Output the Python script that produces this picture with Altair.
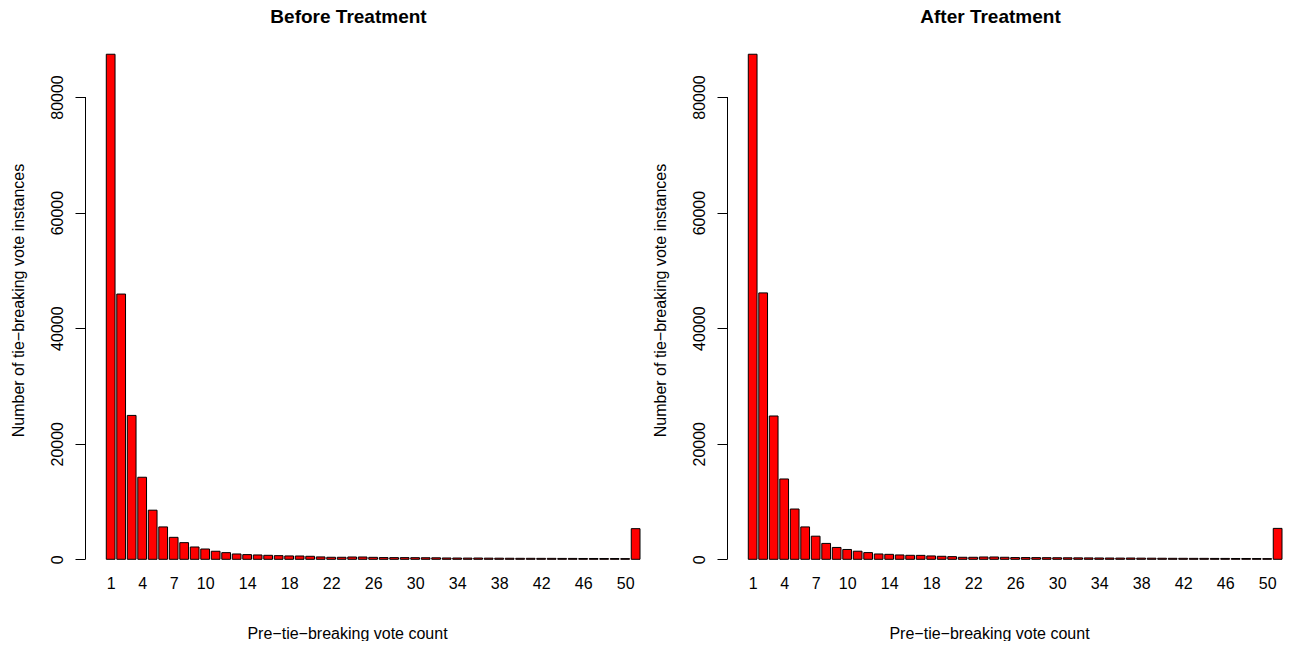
import altair as alt
import pandas as pd

# ---- data ----
counts = list(range(1, 52))
before = [87400, 45900, 24900, 14200, 8500, 5600, 3800, 2880, 2130, 1780,
          1390, 1150, 920, 810, 750, 690, 630, 580, 570, 520,
          410, 350, 350, 400, 400, 340, 300, 290, 290, 280,
          270, 260, 230, 220, 210, 220, 200, 190, 180, 170,
          170, 160, 160, 150, 150, 140, 140, 130, 130, 120,
          5300]
after = [87400, 46100, 24800, 13900, 8700, 5600, 4000, 2750, 2050, 1700,
         1400, 1160, 920, 860, 750, 690, 680, 580, 520, 460,
         350, 350, 400, 400, 350, 300, 300, 290, 280, 270,
         260, 250, 240, 230, 220, 210, 220, 200, 190, 180,
         170, 170, 160, 160, 150, 150, 140, 140, 130, 120,
         5350]
x_tick_counts = [1, 4, 7, 10, 14, 18, 22, 26, 30, 34, 38, 42, 46, 50]
y_ticks = [0, 20000, 40000, 60000, 80000]
panel_titles = ["Before Treatment", "After Treatment"]
x_title = "Pre\u2212tie\u2212breaking vote count"
y_title = "Number of tie\u2212breaking vote instances"

FONT = "Liberation Sans"
W, H = 555, 530


def panel(values, title):
    df = pd.DataFrame({"count": counts, "n": values})
    xscale = alt.Scale(domain=[-2.233, 61.2], nice=False, zero=False)
    yscale = alt.Scale(domain=[-1852, 89864], nice=False, zero=False)
    yaxis = alt.Axis(values=y_ticks, format="d", title=y_title,
                     domain=False, grid=False, ticks=True, tickSize=10,
                     tickColor="black", tickWidth=1,
                     labelAngle=270, labelAlign="center",
                     labelBaseline="alphabetic", labelPadding=13,
                     labelFont=FONT, labelFontSize=16, labelColor="black",
                     labelFlush=False, labelOverlap=False, labelBound=False,
                     titleFont=FONT, titleFontSize=16, titleFontWeight="normal",
                     titleColor="black", titleAngle=270, titleAlign="center",
                     titleBaseline="alphabetic", titleX=-62, titleY=260)

    bars = alt.Chart(df).transform_calculate(
        xl="1.2*datum.count - 1", xr="1.2*datum.count", zero="0"
    ).mark_rect(color="#FF0000", stroke="black", strokeWidth=1).encode(
        x=alt.X("xl:Q", scale=xscale,
                axis=alt.Axis(values=[round(1.2 * v - 0.5, 4) for v in x_tick_counts],
                              labelExpr="round((datum.value + 0.5) / 1.2)",
                              title=x_title, domain=False, ticks=False, tickSize=0,
                              grid=False, labelAngle=0, labelAlign="center",
                              labelBaseline="alphabetic", labelPadding=18,
                              labelFont=FONT, labelFontSize=16, labelColor="black",
                              labelFlush=False, labelOverlap=False, labelBound=False,
                              titleFont=FONT, titleFontSize=16, titleFontWeight="normal",
                              titleColor="black", titleX=262, titleY=68,
                              titleAlign="center", titleBaseline="alphabetic")),
        x2="xr:Q",
        y=alt.Y("n:Q", scale=yscale, axis=yaxis),
        y2="zero:Q",
    )

    axis_line = alt.Chart(pd.DataFrame({"n": [y_ticks[0]], "n2": [y_ticks[-1]]})).mark_rule(
        color="black", strokeWidth=1
    ).encode(
        x=alt.value(0.5),
        y=alt.Y("n:Q", scale=yscale, axis=yaxis),
        y2="n2:Q",
    )

    return alt.layer(bars, axis_line).properties(
        width=W, height=H,
        title=alt.TitleParams(title, font=FONT, fontSize=19, fontWeight="bold",
                              color="black", anchor="middle", frame="group",
                              dx=-14, offset=-2, baseline="alphabetic"),
    )


chart = alt.hconcat(
    panel(before, panel_titles[0]),
    panel(after, panel_titles[1]),
    spacing=87, bounds="flush",
).properties(
    padding={"left": 2, "top": 0, "right": 0, "bottom": 0},
    background="white",
).configure_view(stroke=None)

chart.save("out.html", embed_options={"renderer": "svg", "actions": False})
